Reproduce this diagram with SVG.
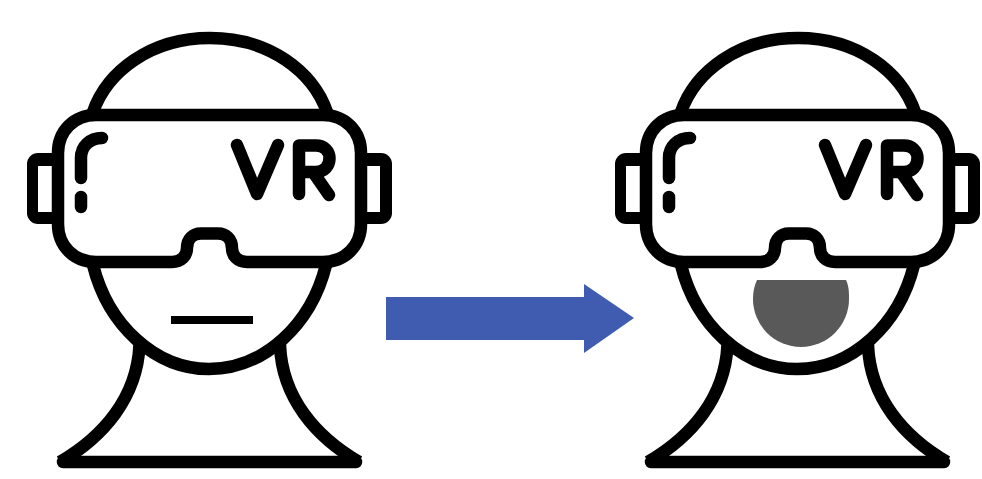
<svg xmlns="http://www.w3.org/2000/svg" width="982" height="479" viewBox="0 0 982 479">
<style>
.s{fill:none;stroke:#000;stroke-width:12.500;stroke-linecap:round;stroke-linejoin:round}
.b{stroke-linecap:butt}
.k{fill:#000}
.w{fill:#fff}
.g{fill:#fff;stroke:#000;stroke-width:12.500;stroke-linejoin:round}
</style>
<defs>
<g id="head">
<path class="s b" d="M93 112C107 72 150 38 210 38C270 38 313 72 327 112"/>
<rect class="k" x="27" y="153" width="36" height="71" rx="11"/>
<rect class="w" x="38" y="166" width="22" height="46"/>
<rect class="k" x="356" y="153" width="36" height="71" rx="11"/>
<rect class="w" x="359" y="166" width="21" height="46"/>
<path class="g" d="M96 115H323C345 115 361 131 361 153V224C361 246 345 262 323 262H247C238 262 232 256 232 248C232 239 226 233.500 218 233.500H201C193 233.500 187 239 187 248C187 256 181 262 172 262H96C74 262 58 246 58 224V153C58 131 74 115 96 115Z"/>
<path class="s" d="M102 138C90 138 81 146 81 158V178M81 197V207"/>
<path class="s" d="M237 145L257 194L278 145M299 194V145.500H316C324 145.500 329.500 151 329.500 158.500C329.500 166 324 172 316 172H299M313 172L329 195"/>
<path class="s b" d="M93 265C108 325 155 369 209 369C264 369 311 325 326 265"/>
<path class="s b" d="M139.500 345C137 398 103 437 60 462M280 345C282 398 316 437 359 462"/>
<path class="s" d="M63 462H356"/>
</g>
</defs>
<rect width="982" height="479" fill="#fff"/>
<g id="head-neutral">
<use href="#head"/>
<rect x="171" y="316" width="82" height="8" fill="#000"/>
</g>
<g id="head-open-mouth">
<use href="#head" x="588"/>
<path d="M757 280H846C849 286 849 293 849 299A48 48 0 0 1 753 299C753 293 754 286 757 280Z" fill="#595959"/>
</g>
<g id="connectors">
<path d="M386 297H584V284L634 318L584 353V340H386Z" fill="#3f5cb0"/>
</g>
</svg>
